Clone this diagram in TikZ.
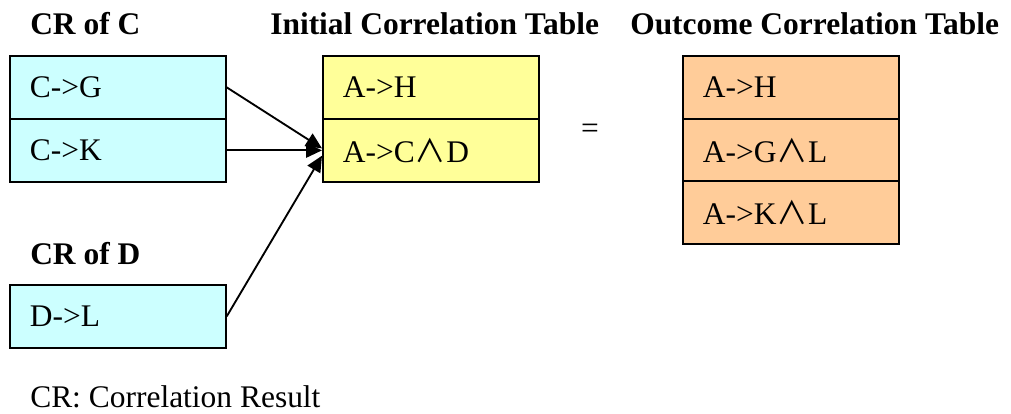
\documentclass[tikz,border=0pt]{standalone}
\usepackage{fontspec}
\setmainfont{Liberation Serif}
\newfontfamily\cjkfont{Noto Sans CJK SC}
\usetikzlibrary{arrows.meta}
\definecolor{cyanbox}{HTML}{CCFFFF}
\definecolor{yellowbox}{HTML}{FFFF99}
\definecolor{orangebox}{HTML}{FFCC99}
\newcommand{\bigfont}{\fontsize{23.6}{28}\selectfont}
\newcommand{\andsym}{{\cjkfont ∧}}
\tikzset{
  cell/.style={draw=black, line width=1.3pt, minimum width=162pt, minimum height=47.25pt,
    text width=132pt, inner xsep=15pt, align=left, anchor=north west, font=\bigfont},
  title/.style={anchor=base west, inner sep=0pt, font=\bigfont\bfseries},
  plain/.style={inner sep=0pt, font=\bigfont},
  conn/.style={line width=1.4pt, -{Triangle[length=12pt,width=11pt]}}
}
\begin{document}
\begin{tikzpicture}[x=0.75pt,y=-0.75pt]
\useasboundingbox (0,0) rectangle (1011,414);
% titles
\node[title] (tC) at (30,35) {CR of C};
\node[title] (tI) at (270,35) {Initial Correlation Table};
\node[title] (tO) at (630,35) {Outcome Correlation Table};
\node[title] (tD) at (30,264) {CR of D};
\node[plain, anchor=base west] (note) at (30,407) {CR: Correlation Result};
% CR of C
\node[cell, fill=cyanbox] (c1) at (9,55) {C->G};
\node[cell, fill=cyanbox] (c2) at (9,118) {C->K};
% CR of D
\node[cell, fill=cyanbox] (d1) at (9,284) {D->L};
% initial table
\node[cell, fill=yellowbox] (y1) at (322,55) {A->H};
\node[cell, fill=yellowbox] (y2) at (322,118) {A->C\andsym D};
% outcome table
\node[cell, fill=orangebox] (o1) at (682,55) {A->H};
\node[cell, fill=orangebox] (o2) at (682,118) {A->G\andsym L};
\node[cell, fill=orangebox] (o3) at (682,180) {A->K\andsym L};
% equals
\node[plain] (eq) at (590,131) {=};
% connectors
\draw[conn] (c1.east) -- ([yshift=1.5]y2.west);
\draw[conn] (c2.east) -- (y2.west);
\draw[conn] (d1.east) -- ([yshift=-4]y2.west);
\end{tikzpicture}
\end{document}
